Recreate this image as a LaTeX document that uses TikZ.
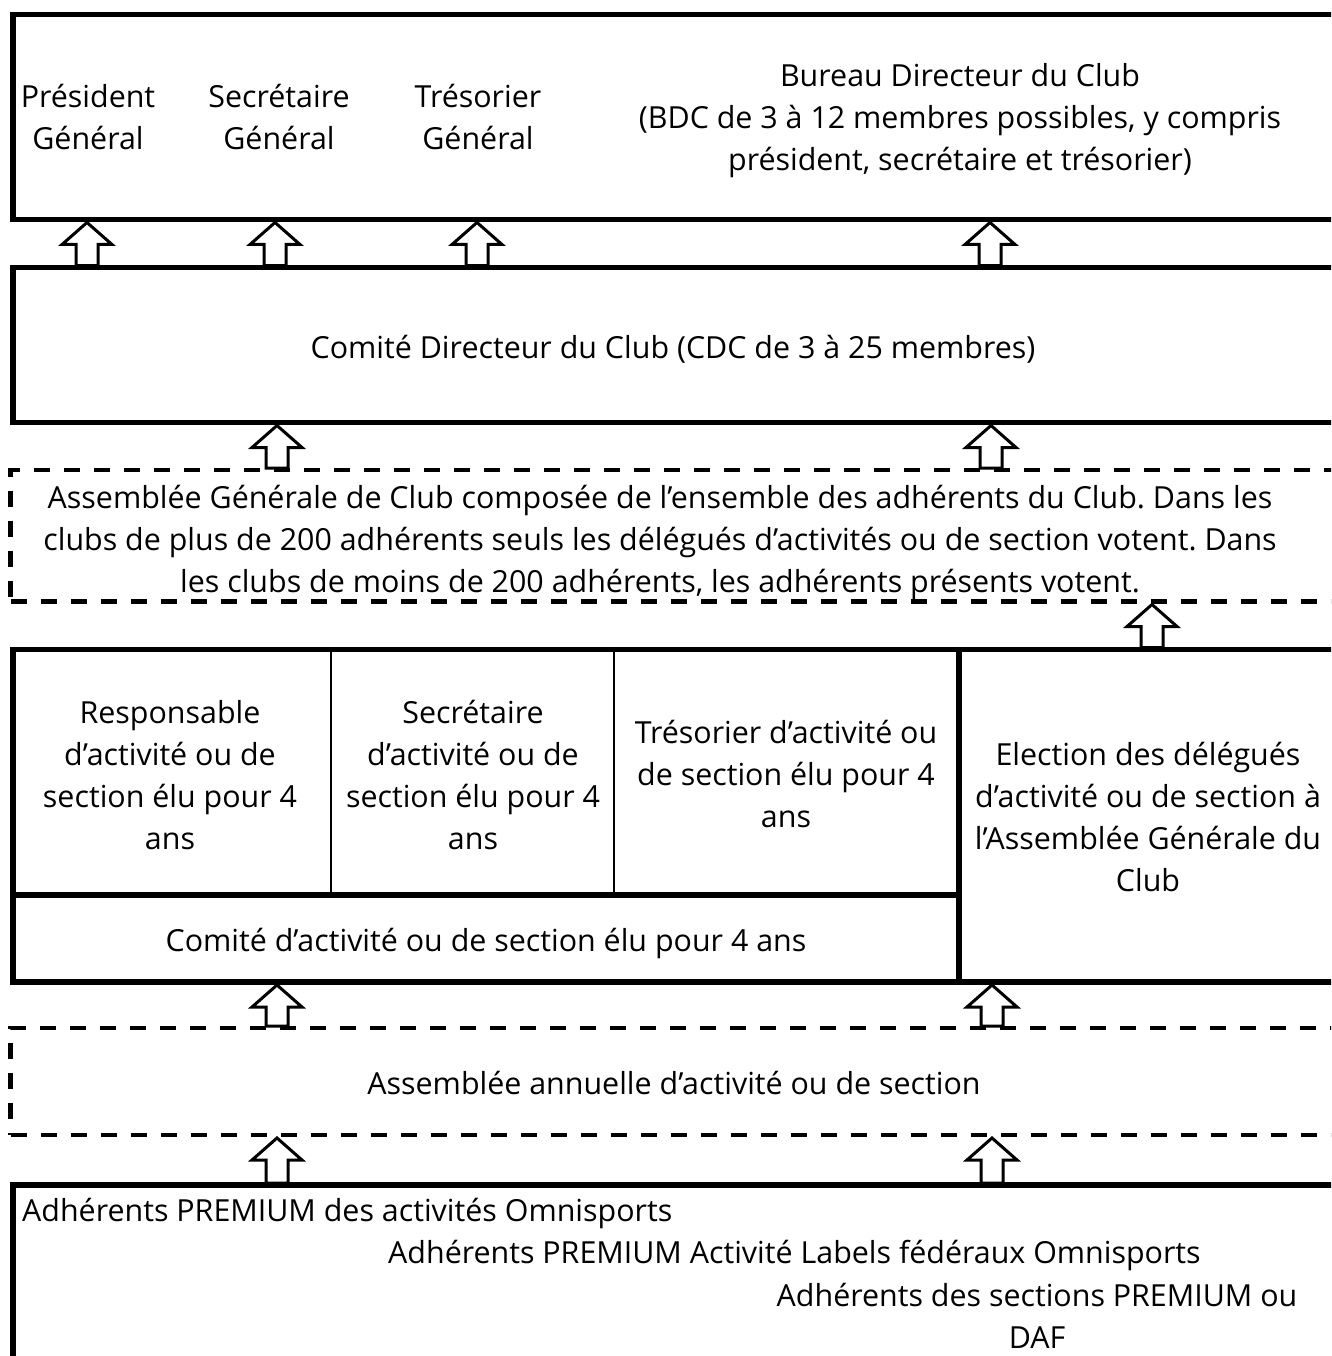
\documentclass[tikz,border=0pt]{standalone}
\usepackage{fontspec}
\setmainfont{Open Sans}
\usetikzlibrary{calc}
\frenchspacing
\newcommand\blockarrow[3]{% #1 = x (px), #2 = lower node, #3 = upper node
  \draw[barrow] let \p1=(#2.north), \p2=(#3.south) in
    ({#1pt-11pt},{\y1+2pt}) -- ({#1pt-11pt},{\y2-25pt}) -- ({#1pt-25pt},{\y2-25pt})
    -- ({#1pt},{\y2-3pt}) -- ({#1pt+25pt},{\y2-25pt}) -- ({#1pt+11pt},{\y2-25pt})
    -- ({#1pt+11pt},{\y1+2pt}) -- cycle;}
\begin{document}
\begin{tikzpicture}[x=1pt,y=-1pt,
  box/.style={draw=black, line width=5.5pt, rectangle, inner sep=0pt, outer sep=0pt},
  dbox/.style={draw=black, line width=4.5pt, dash pattern=on 16pt off 14pt, rectangle, inner sep=0pt, outer sep=0pt},
  thinline/.style={line width=2pt},
  thickline/.style={line width=5.5pt},
  lbl/.style={align=center, anchor=base, inner sep=0pt, font=\fontsize{30.4}{42}\selectfont\frenchspacing},
  barrow/.style={draw=black, line width=3pt, fill=white, line join=miter}]
\useasboundingbox (0,0) rectangle (1331,1356);
\clip (0,0) rectangle (1331,1356);
\fill[white] (0,0) rectangle (1331,1356);

% boxes
\node[box, minimum width=1332pt, minimum height=205pt] (bdc) at (679,117) {};
\node[box, minimum width=1332pt, minimum height=155pt] (cdc) at (679,345) {};
\node[dbox, minimum width=1334pt, minimum height=131.5pt] (ag) at (677.5,535.75) {};
\node[box, minimum width=1332pt, minimum height=332.5pt] (ca) at (679,815.75) {};
\node[dbox, minimum width=1334pt, minimum height=107pt] (aa) at (677.5,1081.5) {};
\node[box, minimum width=1332pt, minimum height=230pt] (adh) at (679,1300) {};

% inner lines of the activity box
\coordinate (vthick) at (959,649.5);
\coordinate (hmid) at (13,895);
\draw[thickline] (vthick) -- (vthick |- ca.south);
\draw[thickline] (hmid) -- (vthick |- hmid);
\coordinate (v1) at (331,649.5);
\coordinate (v2) at (614,649.5);
\draw[thinline] (v1) -- (v1 |- hmid);
\draw[thinline] (v2) -- (v2 |- hmid);

% texts (anchor = baseline of the last line)
\node[lbl] (pg) at (88,150) {Président\\Général};
\node[lbl] (sg) at (279,150) {Secrétaire\\Général};
\node[lbl] (tg) at (478,150) {Trésorier\\Général};
\node[lbl] (bur) at (960,171) {Bureau Directeur du Club\\(BDC de 3 à 12 membres possibles, y compris\\président, secrétaire et trésorier)};
\node[lbl] (cdct) at (673,358) {Comité Directeur du Club (CDC de 3 à 25 membres)};
\node[lbl] (agt) at (660,592) {Assemblée Générale de Club composée de l’ensemble des adhérents du Club. Dans les\\clubs de plus de 200 adhérents seuls les délégués d’activités ou de section votent. Dans\\les clubs de moins de 200 adhérents, les adhérents présents votent.};
\node[lbl] (resp) at (170,849) {Responsable\\d’activité ou de\\section élu pour 4\\ans};
\node[lbl] (secr) at (473,849) {Secrétaire\\d’activité ou de\\section élu pour 4\\ans};
\node[lbl] (tres) at (786,827) {Trésorier d’activité ou\\de section élu pour 4\\ans};
\node[lbl] (elec) at (1148,891) {Election des délégués\\d’activité ou de section à\\l’Assemblée Générale du\\Club};
\node[lbl] (comt) at (486,951) {Comité d’activité ou de section élu pour 4 ans};
\node[lbl] (aat) at (674,1094) {Assemblée annuelle d’activité ou de section};
\node[lbl, anchor=base west] (a1) at (22,1221) {Adhérents PREMIUM des activités Omnisports};
\node[lbl, anchor=base west] (a2) at (388,1263) {Adhérents PREMIUM Activité Labels fédéraux Omnisports};
\node[lbl] (a3) at (1037,1348) {Adhérents des sections PREMIUM ou\\DAF};

% arrows
\blockarrow{87}{cdc}{bdc}
\blockarrow{275}{cdc}{bdc}
\blockarrow{477}{cdc}{bdc}
\blockarrow{990}{cdc}{bdc}
\blockarrow{277}{ag}{cdc}
\blockarrow{991}{ag}{cdc}
\blockarrow{1152}{ca}{ag}
\blockarrow{277}{aa}{ca}
\blockarrow{992}{aa}{ca}
\blockarrow{277}{adh}{aa}
\blockarrow{992}{adh}{aa}
\end{tikzpicture}
\end{document}
